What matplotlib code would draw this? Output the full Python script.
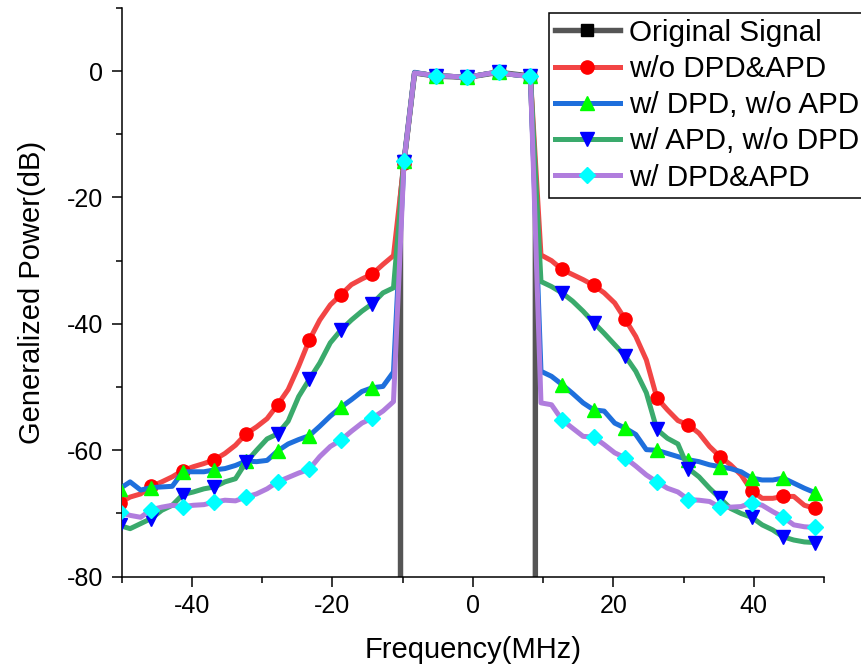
import matplotlib
matplotlib.use("Agg")
import matplotlib.pyplot as plt
from matplotlib.ticker import MultipleLocator

plt.rcParams["font.family"] = ["Liberation Sans", "DejaVu Sans"]
plt.rcParams["axes.unicode_minus"] = False

# Frequency grid of the measured spectra (MHz)
freq = [-50.3, -48.8, -47.3, -45.8, -44.3, -42.8, -41.3, -39.8, -38.3, -36.8,
        -35.3, -33.8, -32.3, -30.8, -29.3, -27.8, -26.3, -24.8, -23.3, -21.8,
        -20.3, -18.8, -17.3, -15.8, -14.3, -12.8, -11.3, -9.8, -8.3, -6.8,
        -5.3, -3.8, -2.3, -0.8, 0.7, 2.2, 3.7, 5.2, 6.7, 8.2,
        9.7, 11.2, 12.7, 14.2, 15.7, 17.2, 18.7, 20.2, 21.7, 23.2,
        24.7, 26.2, 27.7, 29.2, 30.7, 32.2, 33.7, 35.2, 36.7, 38.2,
        39.7, 41.2, 42.7, 44.2, 45.7, 47.2, 48.7]

# Ideal transmitted signal: flat in-band, steep band edges
orig_freq = [-10.3, -10.3, -9.8, -8.3, -5.3, -0.8, 3.7, 8.2, 8.9, 8.9]
orig_power = [-200.0, -20.0, -14.3, -0.3, -0.8, -1.0, -0.2, -0.8, -20.0, -200.0]

# Generalized power spectra (dB)
p_none = [-68.3, -67.4, -66.9, -65.7, -65.0, -64.2, -63.2, -62.6, -62.1, -61.5,
          -60.5, -59.2, -57.4, -56.3, -55.0, -52.8, -50.4, -46.7, -42.6, -39.4,
          -37.0, -35.4, -33.8, -32.9, -32.1, -30.6, -29.2, -14.5, -0.3, -0.5,
          -0.8, -0.8, -0.9, -1.0, -0.7, -0.4, -0.2, -0.5, -0.7, -0.8,
          -29.1, -30.0, -31.4, -32.2, -33.0, -33.9, -35.1, -36.7, -39.3, -42.0,
          -45.7, -51.7, -53.6, -55.3, -56.0, -57.3, -59.4, -61.0, -62.3, -63.9,
          -66.4, -67.6, -67.6, -67.3, -67.3, -68.7, -69.2]

p_dpd = [-66.1, -65.0, -66.3, -65.9, -65.8, -65.7, -63.4, -63.4, -63.4, -63.1,
         -62.9, -62.4, -61.7, -61.8, -61.6, -60.1, -59.0, -58.3, -57.7, -56.2,
         -54.6, -53.2, -52.0, -50.7, -50.1, -49.9, -47.6, -14.3, -0.2, -0.5,
         -0.8, -0.8, -0.9, -1.0, -0.7, -0.4, -0.2, -0.5, -0.7, -0.8,
         -47.5, -48.3, -49.6, -51.0, -52.5, -53.6, -53.8, -55.7, -56.5, -57.5,
         -59.9, -60.0, -60.5, -61.0, -61.5, -61.8, -62.3, -62.6, -62.9, -63.4,
         -64.4, -64.7, -64.7, -64.4, -65.2, -66.0, -66.7]

p_apd = [-71.9, -72.4, -71.6, -70.8, -69.5, -68.7, -67.0, -66.6, -66.1, -65.8,
         -65.0, -64.5, -61.9, -60.0, -58.2, -57.4, -55.4, -51.5, -48.8, -46.2,
         -43.0, -41.0, -39.4, -38.0, -36.8, -35.1, -34.3, -14.4, -0.3, -0.5,
         -0.8, -0.8, -0.9, -1.0, -0.7, -0.4, -0.2, -0.5, -0.7, -0.8,
         -33.3, -34.1, -35.1, -36.4, -38.0, -39.8, -41.5, -43.3, -45.1, -47.5,
         -50.9, -56.7, -58.1, -59.0, -62.9, -64.2, -66.0, -67.6, -69.2, -70.0,
         -70.6, -71.8, -72.6, -73.7, -74.2, -74.5, -74.6]

p_both = [-69.8, -70.3, -70.6, -69.4, -69.0, -68.7, -68.9, -68.7, -68.6, -68.2,
          -67.9, -68.0, -67.4, -66.9, -66.1, -65.0, -64.3, -63.6, -63.0, -61.0,
          -59.4, -58.4, -57.0, -55.7, -54.9, -53.8, -52.3, -14.3, -0.3, -0.5,
          -0.8, -0.8, -0.9, -1.0, -0.7, -0.4, -0.2, -0.5, -0.7, -0.8,
          -52.5, -52.8, -55.2, -56.5, -57.8, -57.9, -59.1, -60.4, -61.2, -62.5,
          -63.9, -65.0, -66.0, -66.6, -67.8, -67.9, -68.1, -69.0, -69.0, -68.9,
          -68.3, -68.7, -69.7, -70.6, -71.8, -72.1, -72.2]

labels = ["Original Signal", "w/o DPD&APD", "w/ DPD, w/o APD",
          "w/ APD, w/o DPD", "w/ DPD&APD"]

W, H = 861, 670
fig = plt.figure(figsize=(W / 100, H / 100), dpi=100)
ax = fig.add_axes([121.7 / W, 1 - 576.7 / H, (824 - 121.7) / W, (576.7 - 7.8) / H])

lw = 3.6
ms = 9.5
ax.plot(orig_freq, orig_power, color="#555555", lw=3.9, marker="s",
        mfc="black", mec="black", ms=ms - 1.5, markevery=[2, 4, 5, 6, 7],
        label=labels[0], zorder=2)
ax.plot(freq, p_none, color="#f24545", lw=lw, marker="o", mfc="#ff0000",
        mec="#ff0000", ms=ms, markevery=3, label=labels[1], zorder=3)
ax.plot(freq, p_dpd, color="#1e6fdc", lw=lw, marker="^", mfc="#00ff00",
        mec="#00ff00", ms=ms + 0.5, markevery=3, label=labels[2], zorder=4)
ax.plot(freq, p_apd, color="#3aaa6c", lw=lw, marker="v", mfc="#0000ff",
        mec="#0000ff", ms=ms + 0.5, markevery=3, label=labels[3], zorder=5)
ax.plot(freq, p_both, color="#b07ddd", lw=lw, marker="D", mfc="#00ffff",
        mec="#00ffff", ms=ms - 1.5, markevery=3, label=labels[4], zorder=6)

ax.set_xlim(-50, 50)
ax.set_ylim(-80, 10)
ax.xaxis.set_major_locator(MultipleLocator(20))
ax.xaxis.set_minor_locator(MultipleLocator(10))
ax.yaxis.set_major_locator(MultipleLocator(20))
ax.yaxis.set_minor_locator(MultipleLocator(10))

for side in ("top", "right"):
    ax.spines[side].set_visible(False)
for side in ("left", "bottom"):
    ax.spines[side].set_linewidth(1.1)
ax.tick_params(which="major", direction="out", length=7.5, width=1.1,
               labelsize=18)
ax.tick_params(axis="y", which="major", pad=6)
ax.tick_params(axis="x", which="major", pad=5)
ax.tick_params(which="minor", direction="out", length=4, width=1.1)

ax.set_xlabel("Frequency(MHz)", fontsize=21, labelpad=13)
ax.set_ylabel("Generalized Power(dB)", fontsize=21, labelpad=15)

leg = ax.legend(loc="upper left", bbox_to_anchor=(549 / W, 1 - 12.7 / H),
                bbox_transform=fig.transFigure, fontsize=21.3, frameon=True,
                fancybox=False, framealpha=1, edgecolor="black",
                handlelength=2.2, handletextpad=0.3, labelspacing=0.28,
                borderpad=0.2, borderaxespad=0, numpoints=1)
leg.get_frame().set_linewidth(1.1)

fig.savefig("out.png", dpi=100)
